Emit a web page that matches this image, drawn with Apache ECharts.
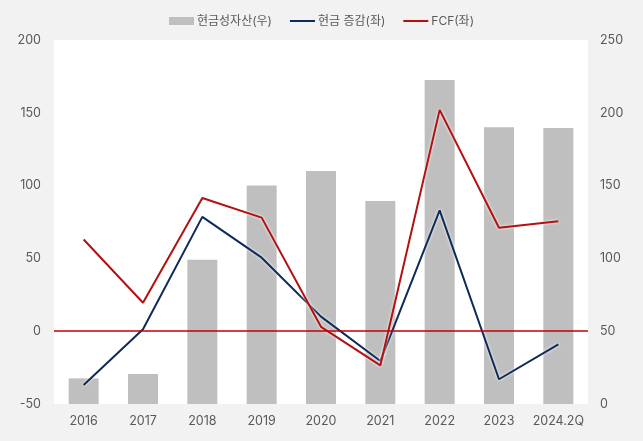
<!DOCTYPE html>
<html><head><meta charset="utf-8">
<script src="https://cdn.jsdelivr.net/npm/echarts@6/dist/echarts.min.js"></script>
<style>html,body{margin:0;padding:0;background:#f2f2f2}#c{width:643px;height:441px}</style>
</head><body><div id="c"></div>
<script>
const categories = ['2016','2017','2018','2019','2020','2021','2022','2023','2024.2Q'];
const cashAssets = [17.6, 20.6, 99, 150, 160, 139.5, 222.5, 190, 189.5];
const cashChange = [-37, 1.4, 78.5, 50.5, 10, -20.5, 83, -33, -9];
const fcf = [63, 19.5, 91.5, 78, 3, -23.5, 152, 71, 75.5];
const leftTicks = {min:-50, max:200, interval:50};
const rightTicks = {min:0, max:250, interval:50};

const font = "Inter, 'Noto Sans CJK KR', sans-serif";
const lineIcon = 'path://M0,0H0.01V0.01H0Z M0,3H25V5H0Z M24.99,7.99H25V8H24.99Z';
const chart = echarts.init(document.getElementById('c'));
const glow = {shadowColor:'rgba(255,255,255,1)', shadowBlur:3};
chart.setOption({
  backgroundColor:'#f2f2f2',
  textStyle:{fontFamily:font},
  legend:{
    top:10, left:'center', itemGap:18, itemWidth:25, itemHeight:8,
    textStyle:{color:'#595959', fontSize:12, fontFamily:font, padding:[0,0,0,-2]},
    data:[{name:'현금성자산(우)', icon:'rect'}, {name:'현금 증감(좌)', icon:lineIcon}, {name:'FCF(좌)', icon:lineIcon}]
  },
  grid:{left:54, right:55, top:40, bottom:37, show:true, backgroundColor:'#ffffff', borderWidth:0},
  xAxis:{
    type:'category', data:categories,
    axisTick:{show:false},
    axisLine:{show:false},
    axisLabel:{color:'#595959', fontSize:12.5, margin:11, interval:0, fontFamily:font}
  },
  yAxis:[
    {type:'value', min:leftTicks.min, max:leftTicks.max, interval:leftTicks.interval,
     splitLine:{show:false}, axisLine:{show:false}, axisTick:{show:false},
     axisLabel:{color:'#595959', fontSize:12.5, margin:13, fontFamily:font}},
    {type:'value', min:rightTicks.min, max:rightTicks.max, interval:rightTicks.interval,
     splitLine:{show:false}, axisLine:{show:false}, axisTick:{show:false},
     axisLabel:{color:'#595959', fontSize:12.5, margin:12, fontFamily:font}}
  ],
  series:[
    {name:'현금성자산(우)', type:'bar', yAxisIndex:1, data:cashAssets, barWidth:30,
     itemStyle:{color:'#bfbfbf'}, z:1},
    {name:'현금 증감(좌)', type:'line', yAxisIndex:0, data:cashChange, symbol:'none',
     lineStyle:Object.assign({color:'#0e2a5a', width:2}, glow), itemStyle:{color:'#0e2a5a'}, z:3},
    {name:'FCF(좌)', type:'line', yAxisIndex:0, data:fcf, symbol:'none',
     lineStyle:Object.assign({color:'#b50f0f', width:2}, glow), itemStyle:{color:'#b50f0f'}, z:4,
     markLine:{silent:true, symbol:['none','none'], label:{show:false},
       lineStyle:{color:'#c00000', width:1.5, type:'solid', opacity:1, shadowBlur:0}, data:[{yAxis:0}]}}
  ]
});
</script></body></html>
